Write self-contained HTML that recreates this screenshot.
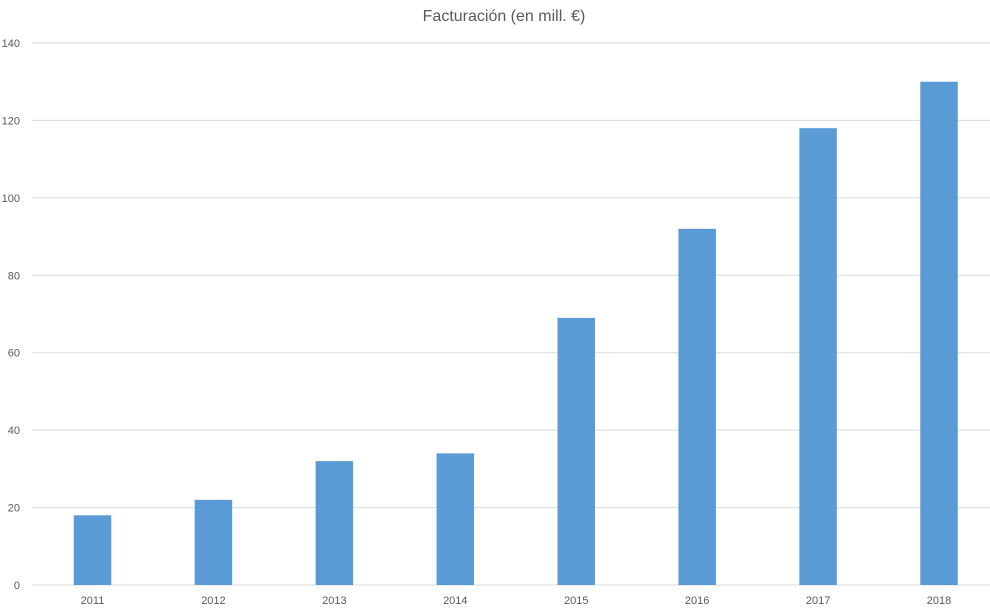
<!DOCTYPE html>
<html><head><meta charset="utf-8"><style>
body{margin:0;background:#fff;}
svg{display:block;font-family:"Liberation Sans",sans-serif;}
</style></head><body>
<svg id="chart" width="990" height="615" viewBox="0 0 990 615">
<text x="504" y="21" text-anchor="middle" font-size="16" fill="#595959">Facturación (en mill. €)</text>
<g id="grid"></g><g id="bars"></g><g id="labels"></g>
</svg>
<script>
const categories=["2011","2012","2013","2014","2015","2016","2017","2018"];
const values=[18,22,32,34,69,92,118,130];
const yTicks=[0,20,40,60,80,100,120,140];
const NS="http://www.w3.org/2000/svg";
const x0=32.05,pitch=120.93,bw=37.5,yBase=585,yTop=43,yMax=140;
function y(v){return yBase-(v/yMax)*(yBase-yTop);}
function xc(i){return x0+pitch*(i+0.5);}
function mk(t,a,p){const e=document.createElementNS(NS,t);for(const k in a)e.setAttribute(k,a[k]);p.appendChild(e);return e;}
const g=document.getElementById('grid'),b=document.getElementById('bars'),l=document.getElementById('labels');
yTicks.forEach(v=>{
 const ln=mk('line',{x1:x0,x2:990,y1:y(v),y2:y(v),stroke:'#d9d9d9','stroke-width':1},g);
 
 
 const t=mk('text',{x:20,y:y(v)+4,'text-anchor':'end','font-size':11,fill:'#595959'},l);
 t.textContent=v;
 
 
});
categories.forEach((c,i)=>{
 const r=mk('rect',{x:xc(i)-bw/2,y:y(values[i]),width:bw,height:yBase-y(values[i]),fill:'#5b9bd5'},b);
 
 
 const t=mk('text',{x:xc(i),y:604,'text-anchor':'middle','font-size':11,fill:'#595959'},l);
 t.textContent=c;
 
 
});
</script>
</body></html>
